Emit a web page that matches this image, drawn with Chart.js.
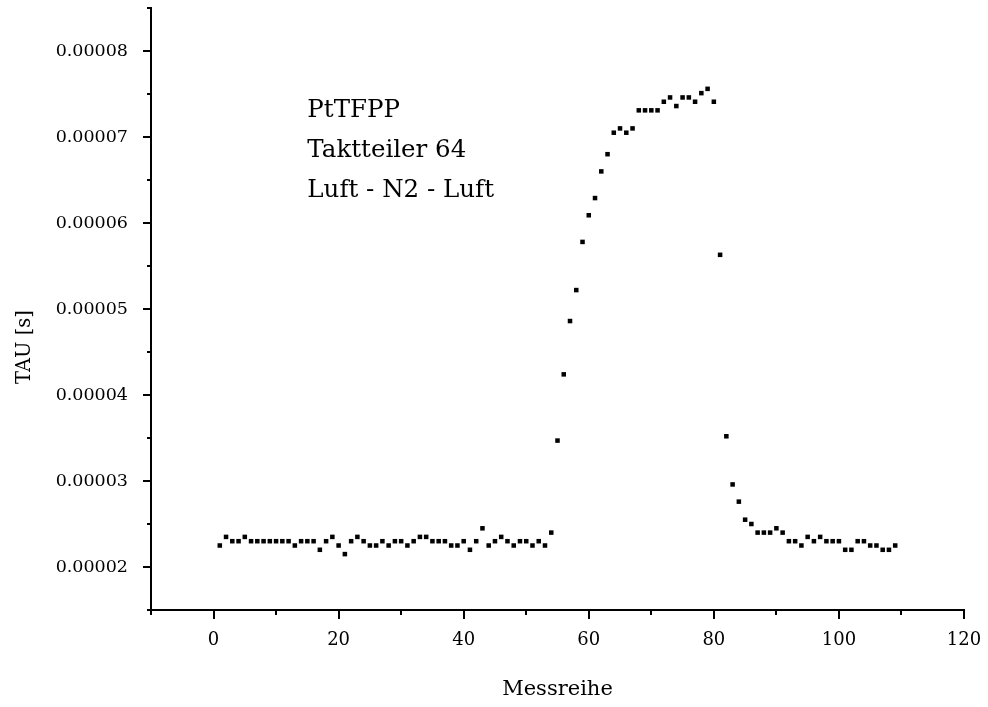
<!DOCTYPE html>
<html>
<head>
<meta charset="utf-8">
<script src="https://cdn.jsdelivr.net/npm/chart.js@4.4.0/dist/chart.umd.min.js"></script>
<style>
  html, body { margin: 0; padding: 0; background: #fff; }
  #wrap { width: 988px; height: 707px; }
</style>
</head>
<body>
<div id="wrap"><canvas id="chartTau"></canvas></div>
<script>
// Messreihe (Messpunkt-Nummer)
const messreihe = [
  1, 2, 3, 4, 5, 6, 7, 8, 9, 10, 11, 12, 13, 14, 15, 16, 17, 18, 19, 20,
  21, 22, 23, 24, 25, 26, 27, 28, 29, 30, 31, 32, 33, 34, 35, 36, 37, 38, 39, 40,
  41, 42, 43, 44, 45, 46, 47, 48, 49, 50, 51, 52, 53, 54, 55, 56, 57, 58, 59, 60,
  61, 62, 63, 64, 65, 66, 67, 68, 69, 70, 71, 72, 73, 74, 75, 76, 77, 78, 79, 80,
  81, 82, 83, 84, 85, 86, 87, 88, 89, 90, 91, 92, 93, 94, 95, 96, 97, 98, 99, 100,
  101, 102, 103, 104, 105, 106, 107, 108, 109
];
// TAU [s]
const tau = [
  2.25e-5, 2.35e-5, 2.30e-5, 2.30e-5, 2.35e-5, 2.30e-5, 2.30e-5, 2.30e-5, 2.30e-5, 2.30e-5,
  2.30e-5, 2.30e-5, 2.25e-5, 2.30e-5, 2.30e-5, 2.30e-5, 2.20e-5, 2.30e-5, 2.35e-5, 2.25e-5,
  2.15e-5, 2.30e-5, 2.35e-5, 2.30e-5, 2.25e-5, 2.25e-5, 2.30e-5, 2.25e-5, 2.30e-5, 2.30e-5,
  2.25e-5, 2.30e-5, 2.35e-5, 2.35e-5, 2.30e-5, 2.30e-5, 2.30e-5, 2.25e-5, 2.25e-5, 2.30e-5,
  2.20e-5, 2.30e-5, 2.45e-5, 2.25e-5, 2.30e-5, 2.35e-5, 2.30e-5, 2.25e-5, 2.30e-5, 2.30e-5,
  2.25e-5, 2.30e-5, 2.25e-5, 2.40e-5, 3.47e-5, 4.24e-5, 4.86e-5, 5.22e-5, 5.78e-5, 6.09e-5,
  6.29e-5, 6.60e-5, 6.80e-5, 7.05e-5, 7.10e-5, 7.05e-5, 7.10e-5, 7.31e-5, 7.31e-5, 7.31e-5,
  7.31e-5, 7.41e-5, 7.46e-5, 7.36e-5, 7.46e-5, 7.46e-5, 7.41e-5, 7.51e-5, 7.56e-5, 7.41e-5,
  5.63e-5, 3.52e-5, 2.96e-5, 2.76e-5, 2.55e-5, 2.50e-5, 2.40e-5, 2.40e-5, 2.40e-5, 2.45e-5,
  2.40e-5, 2.30e-5, 2.30e-5, 2.25e-5, 2.35e-5, 2.30e-5, 2.35e-5, 2.30e-5, 2.30e-5, 2.30e-5,
  2.20e-5, 2.20e-5, 2.30e-5, 2.30e-5, 2.25e-5, 2.25e-5, 2.20e-5, 2.20e-5, 2.25e-5
];
const xTickLabels = ["0", "20", "40", "60", "80", "100", "120"];
const yTickLabels = ["0.00002", "0.00003", "0.00004", "0.00005", "0.00006", "0.00007", "0.00008"];
const infoLines = ["PtTFPP", "Taktteiler 64", "Luft - N2 - Luft"];

const serif = "'DejaVu Serif', 'Liberation Serif', serif";

const axisTicks = {
  id: "axisTicks",
  afterDraw(chart) {
    const ctx = chart.ctx;
    const xs = chart.scales.x, ys = chart.scales.y;
    ctx.save();
    ctx.strokeStyle = "#000";
    ctx.lineWidth = 2;
    ctx.beginPath();
    xs.ticks.forEach(t => {
      const px = Math.round(xs.getPixelForValue(t.value));
      const len = Math.round(t.value) % 20 === 0 ? 9 : 5;
      ctx.moveTo(px, xs.top);
      ctx.lineTo(px, xs.top + len);
    });
    ys.ticks.forEach(t => {
      const py = Math.round(ys.getPixelForValue(t.value));
      const len = Math.round(t.value * 1e6) % 10 === 0 ? 8 : 4;
      ctx.moveTo(ys.right, py);
      ctx.lineTo(ys.right - len, py);
    });
    ctx.stroke();

    // Beschriftung im Diagramm
    ctx.fillStyle = "#000";
    ctx.font = "24.5px " + serif;
    ctx.textBaseline = "alphabetic";
    const tx = xs.getPixelForValue(15);
    infoLines.forEach((s, i) => {
      ctx.fillText(s, tx, 117 + i * 40);
    });

    // Achsentitel Y
    ctx.font = "19.5px " + serif;
    ctx.textAlign = "center";
    ctx.textBaseline = "middle";
    ctx.translate(25, 347);
    ctx.rotate(-Math.PI / 2);
    ctx.fillText("TAU [s]", 0, 0);
    ctx.restore();
  }
};

const ctxTau = document.getElementById("chartTau").getContext("2d");
const chartTau = new Chart(ctxTau, {
  type: "scatter",
  data: {
    datasets: [{
      label: "TAU",
      data: messreihe.map((m, i) => ({ x: m, y: tau[i] })),
      pointStyle: "rect",
      pointRadius: 3.2,
      backgroundColor: "#000",
      borderColor: "#000",
      borderWidth: 0
    }]
  },
  options: {
    responsive: true,
    maintainAspectRatio: false,
    animation: false,
    layout: { padding: { left: 9, right: 24, top: 8, bottom: 0 } },
    plugins: { legend: { display: false }, tooltip: { enabled: false } },
    scales: {
      x: {
        type: "linear",
        min: -10,
        max: 120,
        grid: { display: false },
        border: { display: true, color: "#000", width: 2 },
        afterFit: s => { s.height = 97; s.paddingLeft = 0; s.paddingRight = 0; },
        ticks: {
          stepSize: 10,
          autoSkip: false,
          maxRotation: 0,
          padding: 12,
          color: "#000",
          font: { family: serif, size: 18 },
          callback: v => (v >= 0 && v % 20 === 0) ? xTickLabels[v / 20] : ""
        },
        title: {
          display: true,
          text: "Messreihe",
          color: "#000",
          font: { family: serif, size: 21 },
          padding: { top: 0, bottom: 5 }
        }
      },
      y: {
        type: "linear",
        min: 0.000015,
        max: 0.000085,
        grid: { display: false },
        border: { display: true, color: "#000", width: 2 },
        afterFit: s => { s.width = 142; s.paddingTop = 0; s.paddingBottom = 0; },
        ticks: {
          stepSize: 0.000005,
          autoSkip: false,
          padding: 15,
          color: "#000",
          font: { family: serif, size: 17.5 },
          callback: v => {
            const k = Math.round(v * 1e6);
            return (k % 10 === 0 && k >= 20 && k <= 80) ? yTickLabels[k / 10 - 2] : "";
          }
        },
        title: { display: false }
      }
    }
  },
  plugins: [axisTicks]
});
</script>
</body>
</html>
